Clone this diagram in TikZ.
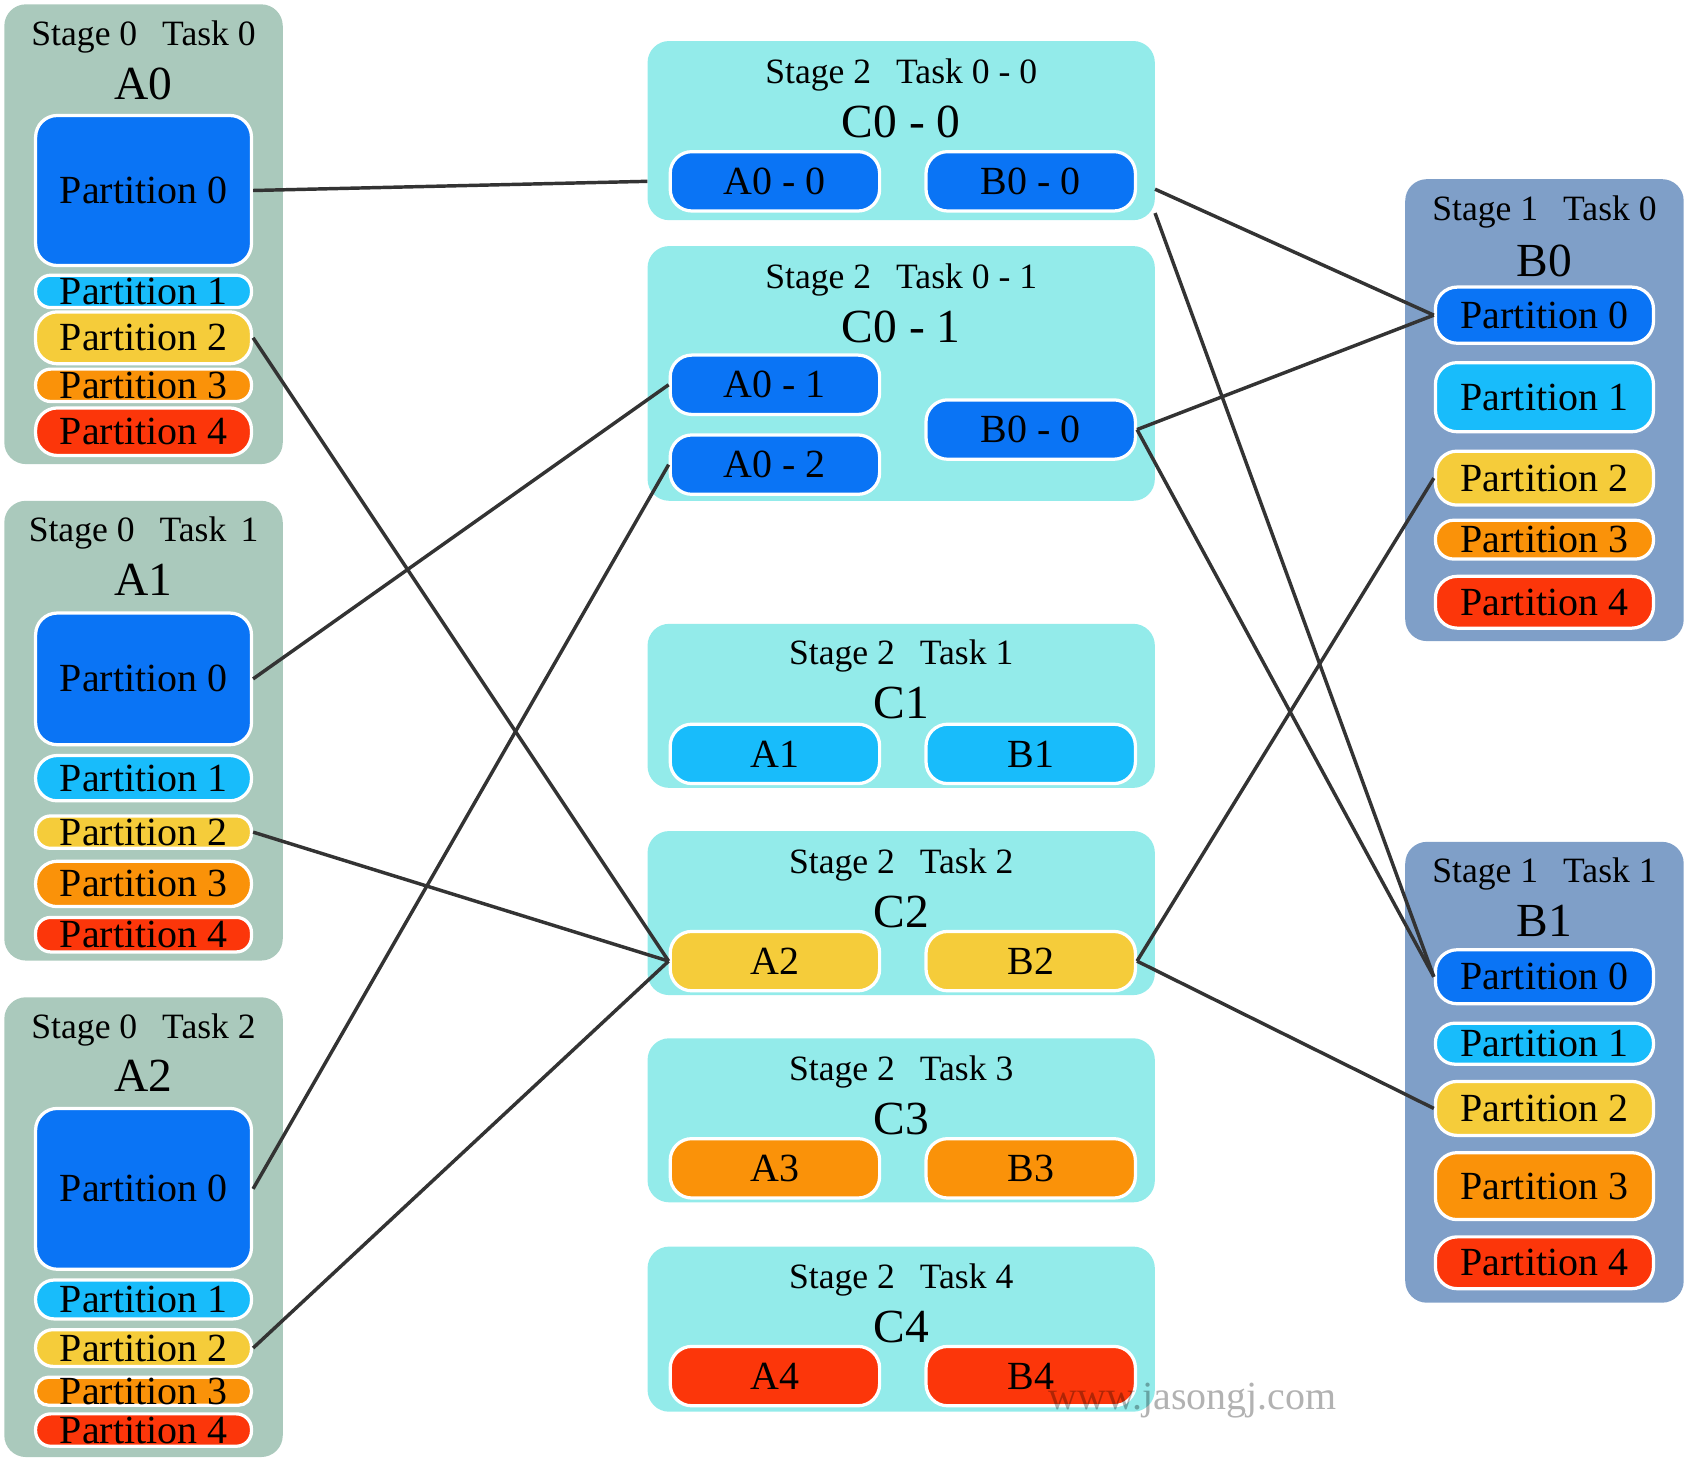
\documentclass[tikz,border=0pt]{standalone}
\usepackage{fontspec}
\setmainfont{Liberation Serif}
\definecolor{colA}{RGB}{170,201,188}
\definecolor{colB}{RGB}{127,159,200}
\definecolor{colC}{RGB}{147,235,234}
\definecolor{colPa}{RGB}{10,116,245}
\definecolor{colPb}{RGB}{24,188,251}
\definecolor{colPc}{RGB}{245,204,58}
\definecolor{colPd}{RGB}{250,146,9}
\definecolor{colPe}{RGB}{252,54,10}
\definecolor{colLink}{RGB}{51,51,51}

\begin{document}
\begin{tikzpicture}[x=1pt, y=-1pt,
		grp/.style={rounded corners=20pt, inner sep=0pt},
		grpA/.style={grp, fill=colA, minimum width=258pt},
		grpB/.style={grp, fill=colB, minimum width=258pt},
		grpC/.style={grp, fill=colC, minimum width=470pt},
		part/.style={draw=white, line width=3pt, rounded corners=14pt, inner sep=0pt, minimum width=200pt, font=\fontsize{37}{37}\selectfont},
		pill/.style={part, minimum width=194pt, minimum height=55pt, rounded corners=20pt},
		ttl/.style={anchor=base, font=\fontsize{33}{33}\selectfont},
		big/.style={anchor=base, font=\fontsize{44}{44}\selectfont},
		link/.style={draw=colLink, line width=3.2pt}]
		\useasboundingbox (0,0) rectangle (1564,1355);
		%%%%%%%%%%%%% stage 0
		\node[grpA, minimum height=426pt] (A0) at (133,217) {};
		\node[ttl] (A0t) at (133,42) {Stage 0\hspace{0.7em}Task 0};
		\node[big] (A0n) at (133,92) {A0};
		\node[part, fill=colPa, minimum height=139pt, rounded corners=20pt] (a0p0) at (133,176.5) {Partition 0};
		\node[part, fill=colPb, minimum height=30pt] (a0p1) at (133,270) {Partition 1};
		\node[part, fill=colPc, minimum height=48pt, rounded corners=20pt] (a0p2) at (133,313) {Partition 2};
		\node[part, fill=colPd, minimum height=30pt] (a0p3) at (133,357) {Partition 3};
		\node[part, fill=colPe, minimum height=44pt, rounded corners=20pt] (a0p4) at (133,400) {Partition 4};
		%
		\node[grpA, minimum height=426pt] (A1) at (133,677) {};
		\node[ttl] (A1t) at (133,502) {Stage 0\hspace{0.7em}Task\hspace{0.4em}1};
		\node[big] (A1n) at (133,552) {A1};
		\node[part, fill=colPa, minimum height=122pt, rounded corners=20pt] (a1p0) at (133,629) {Partition 0};
		\node[part, fill=colPb, minimum height=42pt, rounded corners=20pt] (a1p1) at (133,721) {Partition 1};
		\node[part, fill=colPc, minimum height=30pt] (a1p2) at (133,771) {Partition 2};
		\node[part, fill=colPd, minimum height=42pt, rounded corners=20pt] (a1p3) at (133,819) {Partition 3};
		\node[part, fill=colPe, minimum height=32pt] (a1p4) at (133,866) {Partition 4};
		%
		\node[grpA, minimum height=426pt] (A2) at (133,1137) {};
		\node[ttl] (A2t) at (133,962) {Stage 0\hspace{0.7em}Task 2};
		\node[big] (A2n) at (133,1011) {A2};
		\node[part, fill=colPa, minimum height=149pt, rounded corners=20pt] (a2p0) at (133,1101.5) {Partition 0};
		\node[part, fill=colPb, minimum height=36pt, rounded corners=17pt] (a2p1) at (133,1204) {Partition 1};
		\node[part, fill=colPc, minimum height=34pt, rounded corners=16pt] (a2p2) at (133,1249) {Partition 2};
		\node[part, fill=colPd, minimum height=26pt, rounded corners=12pt] (a2p3) at (133,1289) {Partition 3};
		\node[part, fill=colPe, minimum height=30pt] (a2p4) at (133,1325) {Partition 4};
		%%%%%%%%%%%%% stage 1
		\node[grpB, minimum height=428pt] (B0) at (1431,380) {};
		\node[ttl] (B0t) at (1431,204) {Stage 1\hspace{0.7em}Task 0};
		\node[big] (B0n) at (1431,256) {B0};
		\node[part, fill=colPa, minimum height=52pt, minimum width=202pt, rounded corners=20pt] (b0p0) at (1431,292) {Partition 0};
		\node[part, fill=colPb, minimum height=64pt, minimum width=202pt, rounded corners=20pt] (b0p1) at (1431,368) {Partition 1};
		\node[part, fill=colPc, minimum height=50pt, minimum width=202pt, rounded corners=20pt] (b0p2) at (1431,443) {Partition 2};
		\node[part, fill=colPd, minimum height=36pt, minimum width=202pt, rounded corners=17pt] (b0p3) at (1431,500) {Partition 3};
		\node[part, fill=colPe, minimum height=48pt, minimum width=202pt, rounded corners=20pt] (b0p4) at (1431,558) {Partition 4};
		%
		\node[grpB, minimum height=427pt] (B1) at (1431,993.5) {};
		\node[ttl] (B1t) at (1431,818) {Stage 1\hspace{0.7em}Task 1};
		\node[big] (B1n) at (1431,868) {B1};
		\node[part, fill=colPa, minimum height=50pt, minimum width=202pt, rounded corners=20pt] (b1p0) at (1431,905) {Partition 0};
		\node[part, fill=colPb, minimum height=38pt, minimum width=202pt, rounded corners=18pt] (b1p1) at (1431,967) {Partition 1};
		\node[part, fill=colPc, minimum height=50pt, minimum width=202pt, rounded corners=20pt] (b1p2) at (1431,1027) {Partition 2};
		\node[part, fill=colPd, minimum height=62pt, minimum width=202pt, rounded corners=20pt] (b1p3) at (1431,1099) {Partition 3};
		\node[part, fill=colPe, minimum height=48pt, minimum width=202pt, rounded corners=20pt] (b1p4) at (1431,1170) {Partition 4};
		%%%%%%%%%%%%% stage 2
		\node[grpC, minimum height=166pt] (c00) at (835,121) {};
		\node[ttl] (c00t) at (835,77) {Stage 2\hspace{0.7em}Task 0 - 0};
		\node[big] (c00n) at (835,127) {C0 - 0};
		\node[pill, fill=colPa] (c00a) at (718,168) {A0 - 0};
		\node[pill, fill=colPa] (c00b) at (955,168) {B0 - 0};
		%
		\node[grpC, minimum height=236pt] (c01) at (835,346) {};
		\node[ttl] (c01t) at (835,267) {Stage 2\hspace{0.7em}Task 0 - 1};
		\node[big] (c01n) at (835,317) {C0 - 1};
		\node[pill, fill=colPa] (c01a1) at (718,356.5) {A0 - 1};
		\node[pill, fill=colPa] (c01a2) at (718,430.5) {A0 - 2};
		\node[pill, fill=colPa] (c01b) at (955,398) {B0 - 0};
		%
		\node[grpC, minimum height=152pt] (c1) at (835,654) {};
		\node[ttl] (c1t) at (835,616) {Stage 2\hspace{0.7em}Task 1};
		\node[big] (c1n) at (835,666) {C1};
		\node[pill, fill=colPb] (c1a) at (718,698.5) {A1};
		\node[pill, fill=colPb] (c1b) at (955,698.5) {B1};
		%
		\node[grpC, minimum height=152pt] (c2) at (835,846) {};
		\node[ttl] (c2t) at (835,809) {Stage 2\hspace{0.7em}Task 2};
		\node[big] (c2n) at (835,859) {C2};
		\node[pill, fill=colPc] (c2a) at (718,890.5) {A2};
		\node[pill, fill=colPc] (c2b) at (955,890.5) {B2};
		%
		\node[grpC, minimum height=152pt] (c3) at (835,1038) {};
		\node[ttl] (c3t) at (835,1001) {Stage 2\hspace{0.7em}Task 3};
		\node[big] (c3n) at (835,1051) {C3};
		\node[pill, fill=colPd] (c3a) at (718,1082.5) {A3};
		\node[pill, fill=colPd] (c3b) at (955,1082.5) {B3};
		%
		\node[grpC, minimum height=153pt] (c4) at (835,1231.5) {};
		\node[ttl] (c4t) at (835,1194) {Stage 2\hspace{0.7em}Task 4};
		\node[big] (c4n) at (835,1244) {C4};
		\node[pill, fill=colPe] (c4a) at (718,1275) {A4};
		\node[pill, fill=colPe] (c4b) at (955,1275) {B4};
		%%%%%%%%%%%%%
		\draw[link] (a0p0.east) to (c00.west |- c00a.west);
		\draw[link] (a0p2.east) to (c2a.west);
		\draw[link] (a1p0.east) to (c01a1.west);
		\draw[link] (a1p2.east) to (c2a.west);
		\draw[link] (a2p0.east) to (c01a2.west);
		\draw[link] (a2p2.east) to (c2a.west);
		\draw[link] (c00.-13.4) to (b0p0.west);
		\draw[link] (c00.-18) to (b1p0.west);
		\draw[link] (c01b.east) to (b0p0.west);
		\draw[link] (c01b.east) to (b1p0.west);
		\draw[link] (c2b.east) to (b0p2.west);
		\draw[link] (c2b.east) to (b1p2.west);
		%%%%%%%%%%%%%
		\node[anchor=base, text=black, text opacity=0.3, font=\fontsize{37}{37}\selectfont] (wm) at (1105,1306) {www.jasongj.com};
\end{tikzpicture}
\end{document}
